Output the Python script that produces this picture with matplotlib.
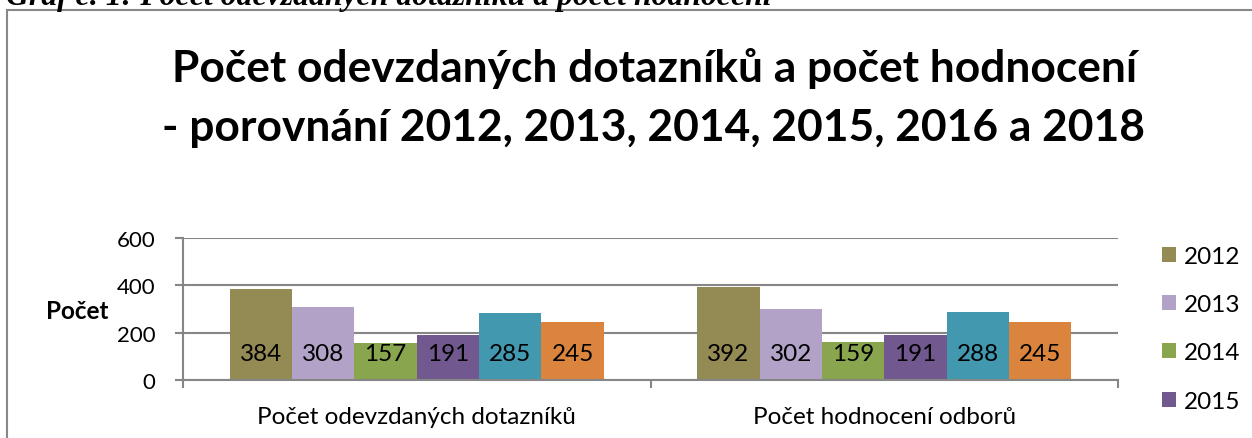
import matplotlib
matplotlib.use("Agg")
import matplotlib.pyplot as plt
from matplotlib.patches import Rectangle
import numpy as np

# ---- data ----
categories = ["Počet odevzdaných dotazníků", "Počet hodnocení odborů"]
years = ["2012", "2013", "2014", "2015", "2016", "2018"]
v2012 = [384, 392]
v2013 = [308, 302]
v2014 = [157, 159]
v2015 = [191, 191]
v2016 = [285, 288]
v2018 = [245, 245]
series = [v2012, v2013, v2014, v2015, v2016, v2018]
colors = ["#948A54", "#B3A2C7", "#89A54E", "#71588F", "#4198AF", "#DB843D"]
yticks = [0, 200, 400, 600]
title1 = "Počet odevzdaných dotazníků a počet hodnocení"
title2 = "- porovnání 2012, 2013, 2014, 2015, 2016 a 2018"
caption = "Graf č. 1: Počet odevzdaných dotazníků a počet hodnocení"
ylabel = "Počet"

W, H = 1252, 439
DPI = 100
fig = plt.figure(figsize=(W / DPI, H / DPI), dpi=DPI)
FONT = "Lato"
GRAY = "#868686"

def fx(px):
    return px / W

def fy(py):
    return 1 - py / H

renderer = fig.canvas.get_renderer()

def fit(t, target_w):
    for _ in range(3):
        w = t.get_window_extent(renderer).width
        t.set_fontsize(t.get_fontsize() * target_w / w)

# frame
fig.patches.append(Rectangle((fx(7), fy(2000)), fx(2000), fy(11) - fy(2000),
                             transform=fig.transFigure, fill=False,
                             edgecolor="#888888", lw=1.5, zorder=0))

# caption (cut off at top)
cap = fig.text(fx(6), fy(4.5), caption, family="Liberation Serif",
               weight="bold", style="italic", fontsize=20, va="baseline",
               ha="left", color="black")
fit(cap, 764)

# title
t1 = fig.text(fx(654.5), fy(82), title1, family=FONT, weight="bold",
              fontsize=28, ha="center", va="baseline")
fit(t1, 961)
t2 = fig.text(fx(653.5), fy(141), title2, family=FONT, weight="bold",
              fontsize=t1.get_fontsize(), ha="center", va="baseline")

# axes
left, right, y0, y600 = 183, 1118, 381, 239
ax = fig.add_axes([fx(left), fy(y0), fx(right - left), fy(y600) - fy(y0)])
n = len(series)
bw = 1.0 / (n + 1.5)
x = np.arange(len(categories))
for i, (vals, c, yr) in enumerate(zip(series, colors, years)):
    xs = x + (i - (n - 1) / 2) * bw
    bars = ax.bar(xs, vals, width=bw, color=c, label=yr, zorder=2)
    for xb, v in zip(xs, vals):
        ax.annotate(str(v), (xb, 0), xytext=(0, 26 * 72 / DPI),
                    textcoords="offset points", ha="center", va="center",
                    family=FONT, fontsize=17.5, color="black", zorder=3)

ax.set_xlim(-0.5, len(categories) - 0.5)
ax.set_ylim(0, 600)
ax.set_yticks(yticks)
ax.set_yticklabels([str(t) for t in yticks], family=FONT, fontsize=16)
ax.yaxis.grid(True, color=GRAY, lw=1.5, zorder=0)
ax.set_axisbelow(True)
ax.set_xticks(x)
ax.set_xticklabels(categories, family=FONT, fontsize=17.5)
ax.set_xticks(np.arange(len(categories) + 1) - 0.5, minor=True)
ax.tick_params(axis="x", which="major", length=0, pad=19)
ax.tick_params(axis="x", which="minor", length=6, width=1.5, color=GRAY)
ax.tick_params(axis="y", length=6, width=1.5, color=GRAY, pad=14)
for s in ["top", "right"]:
    ax.spines[s].set_visible(False)
for s in ["left", "bottom"]:
    ax.spines[s].set_color(GRAY)
    ax.spines[s].set_linewidth(1.5)

fig.text(fx(46), fy(312), ylabel, family=FONT, weight="bold", fontsize=17.5,
         ha="left", va="center")

leg = fig.legend(loc="upper left", bbox_to_anchor=(fx(1162), fy(247)),
                 frameon=False, prop={"family": FONT, "size": 17.5},
                 handlelength=0.58, handleheight=0.58, handletextpad=0.3,
                 labelspacing=1.12, borderpad=0, borderaxespad=0)

fig.savefig("out.png", dpi=DPI)
